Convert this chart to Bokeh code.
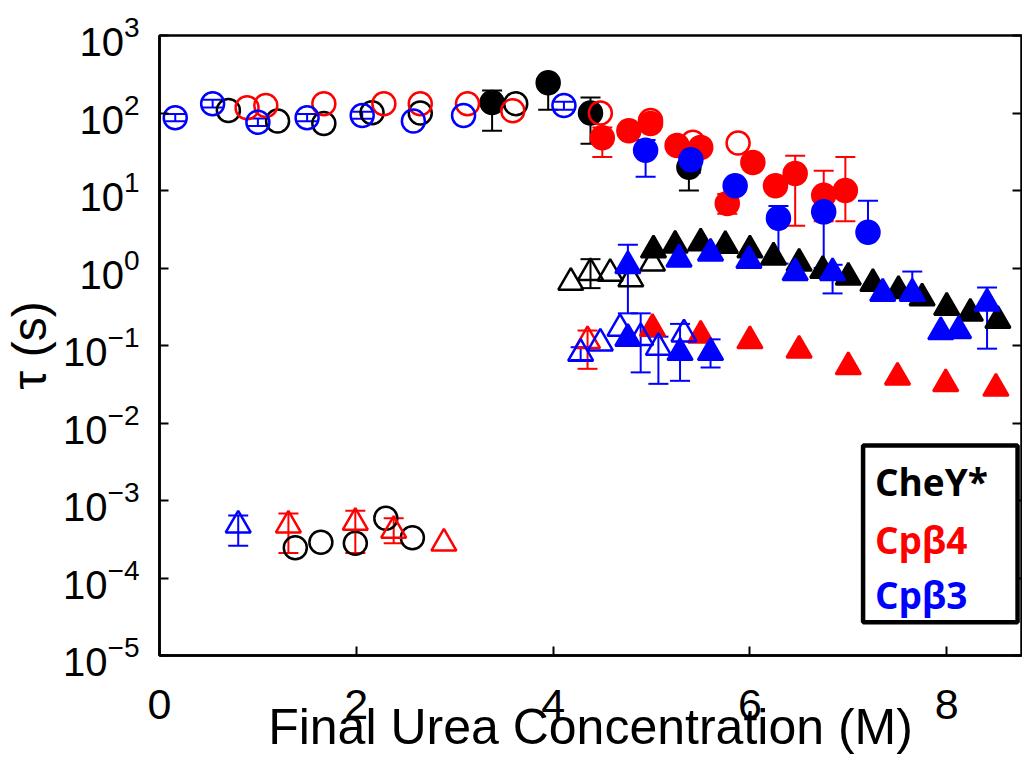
from bokeh.plotting import figure
from bokeh.models import (Range1d, LogAxis, FixedTicker, Whisker, TeeHead,
                          ColumnDataSource, BoxAnnotation, Label)
from bokeh.embed import file_html
from bokeh.resources import INLINE

# ---------------- data ----------------
BLACK = "#000000"
RED = "#ff0000"
BLUE = "#0000ff"

# CheY*
chey_oc_x = [0.70, 1.20, 1.67, 2.16, 2.65, 3.62]
chey_oc_t = [108, 79, 73, 101, 100, 132]
chey_fc_x = [3.38, 3.95, 4.38, 5.38]
chey_fc_t = [137, 245, 100, 20]
chey_ot_x = [4.18, 4.38, 4.58, 4.79, 5.01]
chey_ot_t = [0.65, 0.87, 0.85, 0.72, 1.15]
chey_ft_x = [5.02, 5.24, 5.50, 5.75, 6.00, 6.24, 6.50, 6.74, 7.00, 7.25, 7.51, 7.75, 8.00, 8.24, 8.52]
chey_ft_t = [1.7, 1.96, 2.1, 1.95, 1.7, 1.38, 1.15, 0.93, 0.76, 0.63, 0.51, 0.41, 0.31, 0.26, 0.21]
chey_lo_x = [1.38, 1.64, 1.99, 2.30, 2.57]
chey_lo_t = [2.45e-4, 2.9e-4, 2.8e-4, 5.9e-4, 3.3e-4]
chey_err_x = [3.38, 3.95, 4.38, 5.38, 4.38]
chey_err_lo = [59, 110, 40, 10, 0.55]
chey_err_hi = [195, 280, 158, 28, 1.3]

# Cpb4
cp4_oc_x = [0.89, 1.08, 1.67, 2.28, 2.65, 3.13, 3.59, 4.48, 4.99, 5.42, 5.88]
cp4_oc_t = [117, 125, 132, 132, 132, 132, 107, 100, 80, 42, 41]
cp4_fc_x = [4.50, 4.77, 4.99, 5.26, 5.50, 5.77, 6.03, 6.26, 6.46, 6.75, 6.97]
cp4_fc_t = [48, 59, 73, 38, 36, 6.8, 23, 11.5, 16.6, 8.7, 10]
cp4_ot_x = [4.35]
cp4_ot_t = [0.115]
cp4_ft_x = [5.01, 5.50, 6.00, 6.50, 7.00, 7.50, 7.99, 8.50]
cp4_ft_t = [0.165, 0.135, 0.115, 0.087, 0.053, 0.039, 0.032, 0.028]
cp4_lo_x = [1.31, 1.99, 2.38, 2.89]
cp4_lo_t = [4.8e-4, 5.2e-4, 4.1e-4, 2.8e-4]
cp4_err_x = [4.50, 5.77, 6.46, 6.75, 6.97, 4.35, 1.31, 1.99, 2.38]
cp4_err_lo = [27, 5.0, 3.5, 4.0, 4.0, 0.050, 2.1e-4, 2.1e-4, 2.8e-4]
cp4_err_hi = [65, 9.0, 28, 18, 27, 0.156, 6.8e-4, 7.4e-4, 5.9e-4]

# Cpb3
cp3_oc_x = [0.16, 0.54, 1.00, 1.50, 2.06, 2.58, 3.09, 4.11]
cp3_oc_t = [87, 132, 76, 87, 93, 79, 93, 125]
cp3_fc_x = [4.94, 5.40, 5.85, 6.29, 6.75, 7.20]
cp3_fc_t = [33, 25, 11.5, 4.4, 5.3, 2.9]
cp3_ot_x = [4.28, 4.48, 4.68, 4.89, 5.07, 5.33]
cp3_ot_t = [0.079, 0.107, 0.166, 0.126, 0.094, 0.14]
cp3_ft_x = [4.76, 5.28, 5.60, 5.99, 6.46, 6.84, 7.35, 7.65, 7.94, 8.12, 8.41, 4.76, 5.29, 5.60]
cp3_ft_t = [1.07, 1.3, 1.55, 1.25, 0.87, 0.87, 0.47, 0.47, 0.15, 0.155, 0.35, 0.123, 0.081, 0.081]
cp3_lo_x = [0.80]
cp3_lo_t = [4.8e-4]
cp3_err_x = [0.16, 0.54, 1.00, 1.50, 2.06, 4.11, 4.94, 5.40, 6.29, 6.75, 7.20,
             4.76, 6.84, 7.65, 8.41, 4.89, 5.07, 5.29, 5.60, 4.28, 0.80]
cp3_err_lo = [78, 118, 68, 78, 84, 110, 15, 17, 1.14, 1.0, 2.9,
              0.26, 0.47, 0.47, 0.091, 0.045, 0.032, 0.035, 0.052, 0.065, 2.6e-4]
cp3_err_hi = [97, 148, 85, 97, 104, 140, 45, 33, 6.3, 10, 7.4,
              2.0, 1.1, 0.9, 0.56, 0.26, 0.13, 0.19, 0.12, 0.095, 6.4e-4]

x_ticks = [0, 2, 4, 6, 8]
y_ticks = [1e-5, 1e-4, 1e-3, 1e-2, 1e-1, 1e0, 1e1, 1e2, 1e3]
legend_labels = ["CheY*", "Cp\u03b24", "Cp\u03b23"]
legend_colors = [BLACK, RED, BLUE]

# ---------------- figure ----------------
FONT = "Liberation Sans"
p = figure(frame_width=862, frame_height=620, y_axis_type="log",
           x_range=Range1d(0, 8.76), y_range=Range1d(1e-5, 1e3),
           output_backend="svg", toolbar_location=None,
           min_border_left=151, min_border_right=1,
           min_border_top=35, min_border_bottom=0)
p.background_fill_color = "white"
p.border_fill_color = "white"
p.grid.visible = False
p.outline_line_color = "black"
p.outline_line_width = 2.5

for ax in (p.xaxis[0], p.yaxis[0]):
    ax.axis_line_width = 2.5
    ax.major_tick_line_width = 2
    ax.major_tick_in = 9
    ax.major_tick_out = 0
    ax.minor_tick_line_color = None
    ax.major_label_text_font = FONT
    ax.major_label_text_color = "black"
    ax.axis_label_text_font = FONT
    ax.axis_label_text_font_style = "normal"
    ax.axis_label_text_color = "black"

p.xaxis.ticker = FixedTicker(ticks=x_ticks)
p.yaxis.ticker = FixedTicker(ticks=y_ticks)
p.xaxis.major_label_text_font_size = "43px"
p.yaxis.major_label_text_font_size = "40px"
p.xaxis.major_label_standoff = 34
p.yaxis.major_label_standoff = 20
p.xaxis.axis_label = "Final Urea Concentration (M)"
p.xaxis.axis_label_text_font_size = "50px"
p.xaxis.axis_label_standoff = -23
p.yaxis.axis_label = "\u03c4 (s)"
p.yaxis.axis_label_text_font_size = "48px"
p.yaxis.axis_label_standoff = 4

right = LogAxis(ticker=FixedTicker(ticks=y_ticks),
                major_label_text_font_size="2px", major_label_text_color=None,
                major_label_standoff=0, major_tick_in=9, major_tick_out=0,
                major_tick_line_width=2, minor_tick_line_color=None,
                axis_line_color=None)
p.add_layout(right, "right")

SIZE_C = 23
SIZE_T = 25
LW = 2.5


def errors(xs, lo, hi, color):
    src = ColumnDataSource(dict(x=xs, lo=lo, hi=hi))
    w = Whisker(source=src, base="x", lower="lo", upper="hi", dimension="height",
                line_color=color, line_width=2,
                upper_head=TeeHead(size=20, line_color=color, line_width=2),
                lower_head=TeeHead(size=20, line_color=color, line_width=2))
    p.add_layout(w)


def pts(xs, ts, color, marker, filled, size):
    p.scatter(xs, ts, marker=marker, size=size, line_color=color, line_width=LW,
              fill_color=color if filled else None)


errors(chey_err_x, chey_err_lo, chey_err_hi, BLACK)
errors(cp4_err_x, cp4_err_lo, cp4_err_hi, RED)
errors(cp3_err_x, cp3_err_lo, cp3_err_hi, BLUE)

# black
pts(chey_oc_x, chey_oc_t, BLACK, "circle", False, SIZE_C)
pts(chey_fc_x, chey_fc_t, BLACK, "circle", True, SIZE_C)
pts(chey_ot_x, chey_ot_t, BLACK, "triangle", False, SIZE_T)
pts(chey_ft_x, chey_ft_t, BLACK, "triangle", True, SIZE_T)
pts(chey_lo_x, chey_lo_t, BLACK, "circle", False, SIZE_C)
# red
pts(cp4_oc_x, cp4_oc_t, RED, "circle", False, SIZE_C)
pts(cp4_fc_x, cp4_fc_t, RED, "circle", True, SIZE_C)
pts(cp4_ot_x, cp4_ot_t, RED, "triangle", False, SIZE_T)
pts(cp4_ft_x, cp4_ft_t, RED, "triangle", True, SIZE_T)
pts(cp4_lo_x, cp4_lo_t, RED, "triangle", False, SIZE_T)
# blue
pts(cp3_oc_x, cp3_oc_t, BLUE, "circle", False, SIZE_C)
pts(cp3_fc_x, cp3_fc_t, BLUE, "circle", True, SIZE_C)
pts(cp3_ot_x, cp3_ot_t, BLUE, "triangle", False, SIZE_T)
pts(cp3_ft_x, cp3_ft_t, BLUE, "triangle", True, SIZE_T)
pts(cp3_lo_x, cp3_lo_t, BLUE, "triangle", False, SIZE_T)

# legend box (custom, text-only)
box = BoxAnnotation(left=7.15, right=8.72, bottom=10 ** -4.57, top=10 ** -2.29,
                    fill_color="white", fill_alpha=1.0,
                    line_color="black", line_alpha=1.0, line_width=4.5,
                    level="annotation")
p.add_layout(box)
leg_y = [10 ** -2.76, 10 ** -3.50, 10 ** -4.21]
for lab, col, yy in zip(legend_labels, legend_colors, leg_y):
    p.add_layout(Label(x=7.27, y=yy, text=lab, text_color=col,
                       text_font="Open Sans", text_font_style="bold",
                       text_font_size="37px", text_baseline="middle"))

open("out.html", "w").write(file_html(p, INLINE))
